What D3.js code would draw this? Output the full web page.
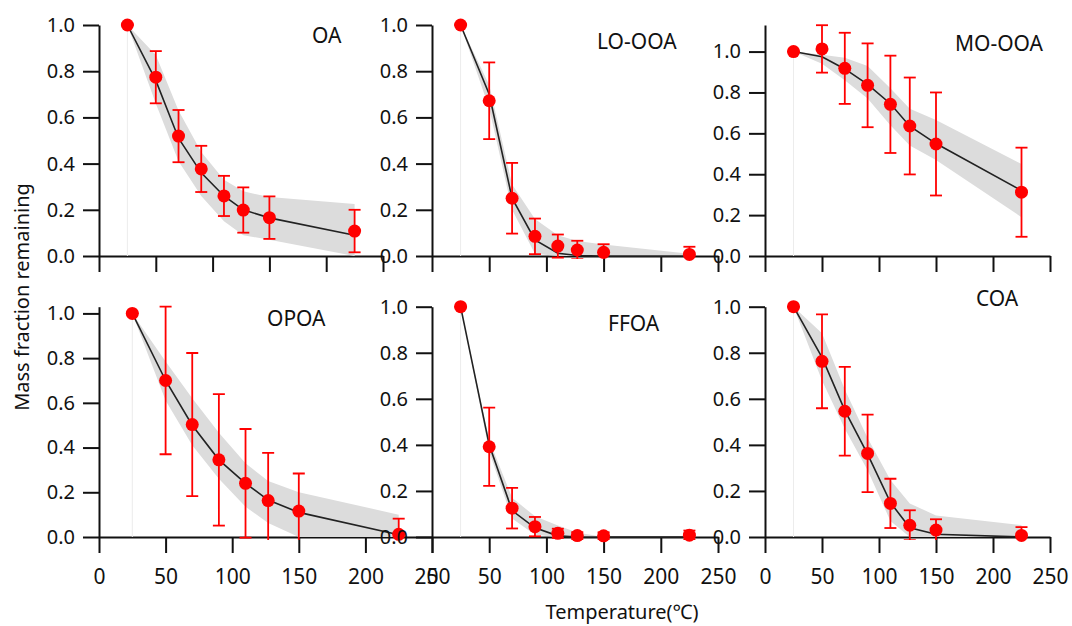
<!DOCTYPE html>
<html>
<head>
<meta charset="utf-8">
<script src="https://cdn.jsdelivr.net/npm/d3@7"></script>
<style>
  body { margin: 0; background: #fff; }
  svg { display: block; }
</style>
</head>
<body>
<div id="chart"></div>
<script>
var width = 1072;
var height = 626;
var font = "'Noto Sans', 'Noto Sans CJK SC', sans-serif";

// temperatures of the thermodenuder steps (degC)
var temps = [25, 50, 70, 90, 110, 127, 150, 225];
var xTicks = [0, 50, 100, 150, 200, 250];
var yTicks = [0, 0.2, 0.4, 0.6, 0.8, 1.0];

var factors = ["OA", "LO-OOA", "MO-OOA", "OPOA", "FFOA", "COA"];
var yMax = [1.0, 1.0, 1.13, 1.03, 1.0, 1.0];

// measured mass fraction remaining (red points)
var meanValues = [
  [1.0, 0.774, 0.519, 0.377, 0.26, 0.199, 0.166, 0.108],
  [1.0, 0.672, 0.25, 0.085, 0.043, 0.026, 0.016, 0.007],
  [1.0, 1.013, 0.918, 0.835, 0.742, 0.636, 0.548, 0.312],
  [1.0, 0.70, 0.503, 0.345, 0.24, 0.163, 0.116, 0.012],
  [1.0, 0.392, 0.125, 0.045, 0.016, 0.006, 0.005, 0.008],
  [1.0, 0.763, 0.546, 0.363, 0.146, 0.051, 0.03, 0.007]
];
// error bars (+/-)
var errValues = [
  [0, 0.113, 0.113, 0.10, 0.087, 0.098, 0.092, 0.092],
  [0, 0.166, 0.153, 0.077, 0.05, 0.04, 0.035, 0.033],
  [0, 0.116, 0.174, 0.205, 0.238, 0.237, 0.252, 0.218],
  [0, 0.33, 0.32, 0.294, 0.243, 0.213, 0.168, 0.07],
  [0, 0.17, 0.088, 0.042, 0.02, 0.015, 0.015, 0.02],
  [0, 0.204, 0.193, 0.168, 0.107, 0.065, 0.047, 0.036]
];
// model curve (black line)
var fitValues = [
  [1.0, 0.76, 0.51, 0.36, 0.26, 0.20, 0.165, 0.09],
  [1.0, 0.70, 0.25, 0.07, 0.012, 0.002, 0.0, 0.0],
  [1.0, 0.975, 0.915, 0.84, 0.745, 0.635, 0.55, 0.32],
  [1.0, 0.70, 0.50, 0.345, 0.24, 0.165, 0.11, 0.01],
  [1.0, 0.40, 0.115, 0.04, 0.005, 0.0, 0.0, 0.0],
  [1.0, 0.78, 0.55, 0.36, 0.15, 0.04, 0.012, 0.0]
];
// model uncertainty band (grey)
var bandLow = [
  [1.0, 0.66, 0.41, 0.26, 0.15, 0.09, 0.07, 0.0],
  [1.0, 0.64, 0.20, 0.01, 0.0, 0.0, 0.0, 0.0],
  [1.0, 0.94, 0.86, 0.77, 0.64, 0.54, 0.47, 0.19],
  [1.0, 0.61, 0.41, 0.26, 0.135, 0.063, 0.0, 0.0],
  [1.0, 0.37, 0.08, 0.01, 0.0, 0.0, 0.0, 0.0],
  [1.0, 0.68, 0.47, 0.29, 0.07, 0.0, 0.0, 0.0]
];
var bandHigh = [
  [1.0, 0.87, 0.63, 0.45, 0.33, 0.28, 0.255, 0.225],
  [1.0, 0.74, 0.31, 0.16, 0.09, 0.065, 0.05, 0.01],
  [1.0, 0.985, 0.97, 0.93, 0.82, 0.72, 0.665, 0.45],
  [1.0, 0.785, 0.62, 0.466, 0.33, 0.25, 0.2, 0.1],
  [1.0, 0.42, 0.17, 0.09, 0.05, 0.02, 0.0, 0.0],
  [1.0, 0.885, 0.64, 0.43, 0.247, 0.146, 0.093, 0.052]
];

// panel boxes in pixels (left, right, bottom, top) and title anchor
var panels = [
  {x0: 99,  x1: 383,  y0: 256, y1: 25,    tx: 312, ty: 43,  labels: false},
  {x0: 432, x1: 718,  y0: 256, y1: 25,    tx: 597, ty: 49,  labels: false},
  {x0: 765, x1: 1050, y0: 256, y1: 25,    tx: 955, ty: 51,  labels: false},
  {x0: 99,  x1: 432,  y0: 537, y1: 306.7, tx: 267, ty: 326, labels: true},
  {x0: 432, x1: 718,  y0: 537, y1: 306.7, tx: 608, ty: 331, labels: true},
  {x0: 765, x1: 1050, y0: 537, y1: 306.7, tx: 976, ty: 306, labels: true}
];

var svg = d3.select("#chart")
            .append("svg")
            .attr("width", width)
            .attr("height", height)
            .attr("font-family", font);

var defs = svg.append("defs");

factors.forEach(function(name, i) {
  var p = panels[i];
  var x = d3.scaleLinear().domain([0, 250]).range([p.x0, p.x1]);
  var y = d3.scaleLinear().domain([0, yMax[i]]).range([p.y0, p.y1]);

  var g = svg.append("g");

  // axes
  var xAxis = d3.axisBottom(x)
      .tickValues(xTicks)
      .tickSizeInner(16)
      .tickSizeOuter(0)
      .tickPadding(16)
      .tickFormat(p.labels ? d3.format("d") : function() { return ""; });

  var yAxis = d3.axisLeft(y)
      .tickValues(yTicks)
      .tickSizeInner(16)
      .tickSizeOuter(0)
      .tickPadding(8)
      .tickFormat(d3.format(".1f"));

  var gx = g.append("g")
      .attr("transform", "translate(0," + p.y0 + ")")
      .call(xAxis);
  gx.selectAll("text").attr("font-size", 21).attr("font-family", font).attr("fill", "#111");

  var gy = g.append("g")
      .attr("transform", "translate(" + p.x0 + ",0)")
      .call(yAxis);
  gy.selectAll("text").attr("font-size", 20).attr("font-family", font).attr("fill", "#111");

  g.selectAll(".domain, .tick line").attr("stroke", "#111").attr("stroke-width", 2);

  var rows = temps.map(function(t, j) {
    return {t: t, m: meanValues[i][j], e: errValues[i][j], f: fitValues[i][j],
            lo: bandLow[i][j], hi: bandHigh[i][j]};
  });

  // grey band
  g.append("path")
      .datum(rows)
      .attr("fill", "#dcdcdc")
      .attr("d", d3.area()
        .x(function(d) { return x(d.t); })
        .y0(function(d) { return y(d.lo); })
        .y1(function(d) { return y(d.hi); }));

  // faint left edge of the band
  g.append("line")
      .attr("x1", x(temps[0])).attr("x2", x(temps[0]))
      .attr("y1", y(0)).attr("y2", y(1))
      .attr("stroke", "#ececec")
      .attr("stroke-width", 1);

  // model line
  g.append("path")
      .datum(rows)
      .attr("fill", "none")
      .attr("stroke", "#222")
      .attr("stroke-width", 1.6)
      .attr("d", d3.line()
        .x(function(d) { return x(d.t); })
        .y(function(d) { return y(d.f); }));

  // error bars, clipped just under the x axis
  var clipId = "clip" + i;
  defs.append("clipPath").attr("id", clipId)
    .append("rect")
      .attr("x", p.x0 - 20)
      .attr("y", p.y1 - 10)
      .attr("width", p.x1 - p.x0 + 40)
      .attr("height", p.y0 - p.y1 + 13);

  var eb = g.append("g")
      .attr("clip-path", "url(#" + clipId + ")")
      .attr("stroke", "#ff0000")
      .attr("stroke-width", 1.8)
      .selectAll("g")
      .data(rows)
      .enter().append("g");

  eb.append("line")
      .attr("x1", function(d) { return x(d.t); })
      .attr("x2", function(d) { return x(d.t); })
      .attr("y1", function(d) { return y(d.m - d.e); })
      .attr("y2", function(d) { return y(d.m + d.e); });

  eb.selectAll(".cap")
      .data(function(d) { return [{t: d.t, v: d.m - d.e}, {t: d.t, v: d.m + d.e}]; })
      .enter().append("line")
      .attr("class", "cap")
      .attr("x1", function(d) { return x(d.t) - 6; })
      .attr("x2", function(d) { return x(d.t) + 6; })
      .attr("y1", function(d) { return y(d.v); })
      .attr("y2", function(d) { return y(d.v); });

  // points
  g.append("g")
      .selectAll("circle")
      .data(rows)
      .enter().append("circle")
      .attr("cx", function(d) { return x(d.t); })
      .attr("cy", function(d) { return y(d.m); })
      .attr("r", 6.5)
      .attr("fill", "#ff0000");

  // panel title
  g.append("text")
      .attr("x", p.tx)
      .attr("y", p.ty)
      .attr("font-size", 21)
      .attr("fill", "#111")
      .text(name);
});

svg.append("text")
    .attr("transform", "translate(29,297) rotate(-90)")
    .attr("text-anchor", "middle")
    .attr("font-size", 20)
    .attr("fill", "#111")
    .text("Mass fraction remaining");

svg.append("text")
    .attr("x", 622)
    .attr("y", 619)
    .attr("text-anchor", "middle")
    .attr("font-size", 20)
    .attr("fill", "#111")
    .text("Temperature(\u2103)");
</script>
</body>
</html>
